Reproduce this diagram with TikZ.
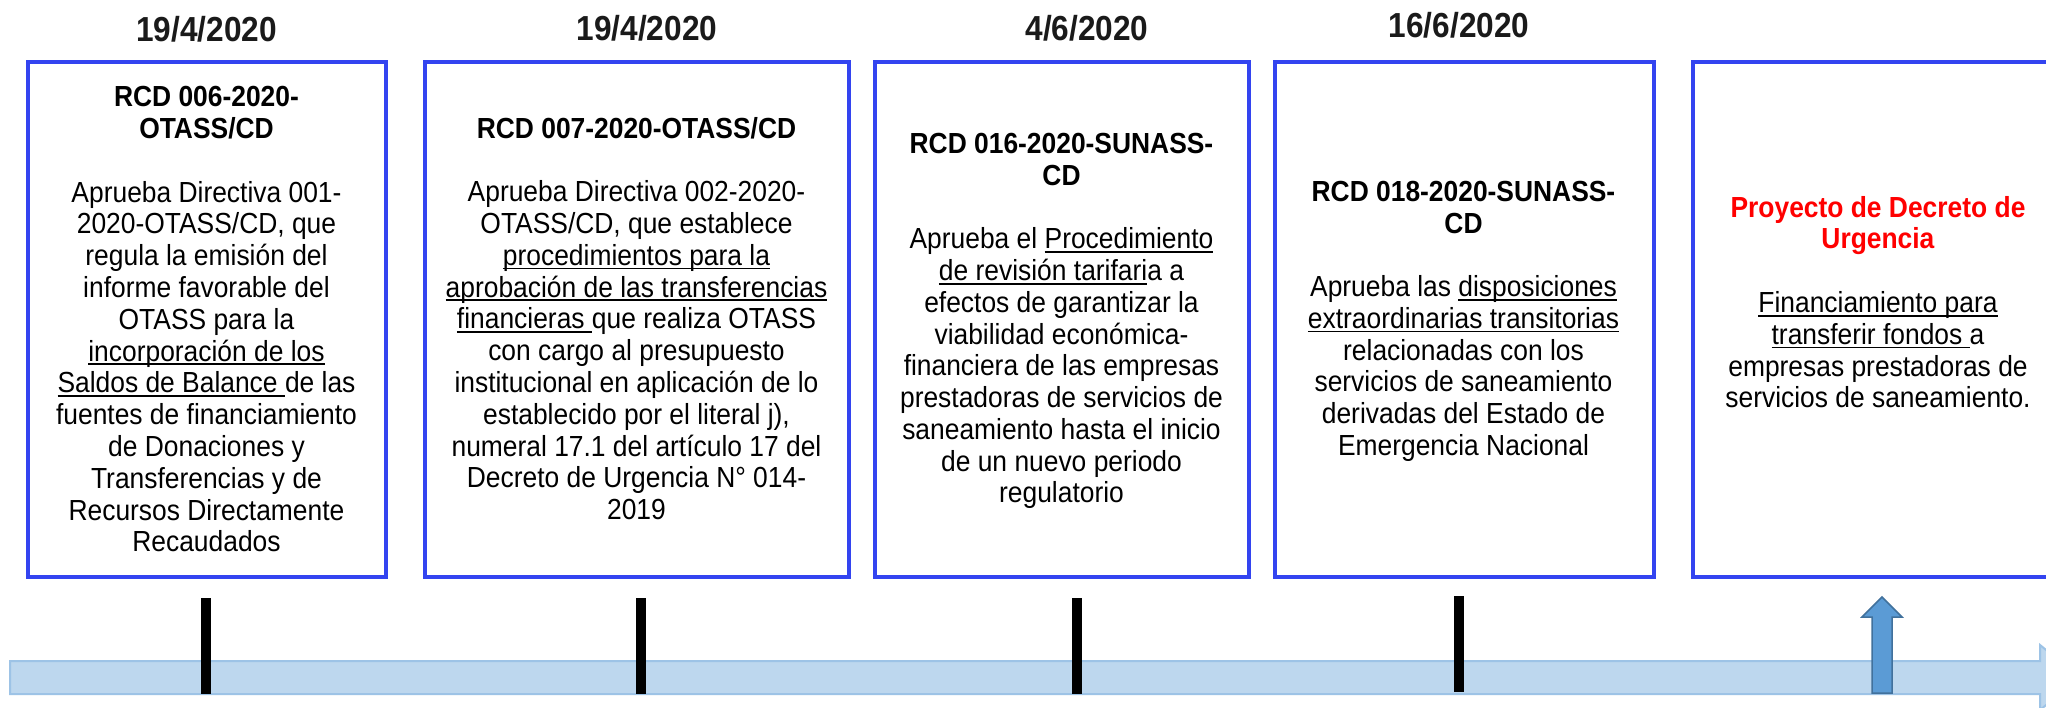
\documentclass[tikz,border=0pt]{standalone}
\usepackage{fontspec}
\setmainfont{Liberation Sans}
\definecolor{boxblue}{RGB}{51,68,240}
\definecolor{datecol}{RGB}{26,26,26}
\definecolor{bandfill}{RGB}{189,215,238}
\definecolor{bandedge}{RGB}{157,195,230}
\definecolor{arrfill}{RGB}{91,155,213}
\definecolor{arredge}{RGB}{65,113,156}
\definecolor{titlered}{RGB}{255,0,0}
\newsavebox{\ulxbox}
\newcommand{\ulx}[1]{\sbox{\ulxbox}{#1}\rlap{\rule[-3.7pt]{\wd\ulxbox}{1.7pt}}\usebox{\ulxbox}}
\begin{document}
\begin{tikzpicture}[x=1pt,y=-1pt,
  bx/.style={draw=boxblue, line width=4pt, fill=white, minimum height=515pt, inner sep=0pt},
  txt/.style={align=center, inner sep=0pt, anchor=north, font=\fontsize{26.4}{28.9}\selectfont},
  datelbl/.style={font=\bfseries\fontsize{31.6}{36}\selectfont, text=datecol, anchor=base, inner sep=0pt},
  tickmark/.style={line width=10pt, draw=black},
]
\useasboundingbox (0,0) rectangle (2046,707);
\clip (0,0) rectangle (2046,707);
\fill[white] (0,0) rectangle (2046,707);

% boxes
\node[bx, minimum width=358pt] (box1) at (207,319.5) {};
\node[bx, minimum width=424pt] (box2) at (637,319.5) {};
\node[bx, minimum width=374pt] (box3) at (1062,319.5) {};
\node[bx, minimum width=379pt] (box4) at (1464.5,319.5) {};
\node[bx, minimum width=370pt] (box5) at (1878,319.5) {};

\begin{scope}[yscale=1.1, every node/.append style={transform shape}]
% dates
\node[datelbl] (d1) at (206.5,37.3) {19/4/2020};
\node[datelbl] (d2) at (647,36.4) {19/4/2020};
\node[datelbl] (d3) at (1087,36.4) {4/6/2020};
\node[datelbl] (d4) at (1459,33.8) {16/6/2020};

% box texts
\node[txt] (t1) at (206.5,76.6) {\strut\textbf{RCD 006-2020-}\\\textbf{OTASS/CD}\\[28.9pt]
Aprueba Directiva 001-\\2020-OTASS/CD, que\\regula la emisión del\\informe favorable del\\OTASS para la\\
\ulx{incorporación de los}\\\ulx{Saldos de Balance\ }de las\\fuentes de financiamiento\\de Donaciones y\\
Transferencias y de\\Recursos Directamente\\Recaudados};

\node[txt] (t2) at (636.5,105.2) {\strut\textbf{RCD 007-2020-OTASS/CD}\\[28.9pt]
Aprueba Directiva 002-2020-\\OTASS/CD, que establece\\\ulx{procedimientos para la}\\
\ulx{aprobación de las transferencias}\\\ulx{financieras\ }que realiza OTASS\\con cargo al presupuesto\\
institucional en aplicación de lo\\establecido por el literal j),\\numeral 17.1 del artículo 17 del\\
Decreto de Urgencia N° 014-\\2019};

\node[txt] (t3) at (1061.5,118.9) {\strut\textbf{RCD 016-2020-SUNASS-}\\\textbf{CD}\\[28.9pt]
Aprueba el \ulx{Procedimiento}\\\ulx{de revisión tarifari}a a\\efectos de garantizar la\\viabilidad económica-\\
financiera de las empresas\\prestadoras de servicios de\\saneamiento hasta el inicio\\de un nuevo periodo\\regulatorio};

\node[txt] (t4) at (1463.5,162.5) {\strut\textbf{RCD 018-2020-SUNASS-}\\\textbf{CD}\\[28.9pt]
Aprueba las \ulx{disposiciones}\\\ulx{extraordinarias transitorias}\\relacionadas con los\\servicios de saneamiento\\
derivadas del Estado de\\Emergencia Nacional};

\node[txt] (t5) at (1878,177.0) {\strut\textcolor{titlered}{\textbf{Proyecto de Decreto de}}\\\textcolor{titlered}{\textbf{Urgencia}}\\[28.9pt]
\ulx{Financiamiento para}\\\ulx{transferir fondos\ }a\\empresas prestadoras de\\servicios de saneamiento.};
\end{scope}

% timeline band
\path[draw=bandedge, fill=bandfill, line width=2pt]
  (10,661) -- (2040,661) -- (2040,645) -- (2080,677.5) -- (2040,710) -- (2040,694) -- (10,694) -- cycle;

% ticks
\draw[tickmark] (206,598) -- (206,694);
\draw[tickmark] (641,598) -- (641,694);
\draw[tickmark] (1077,598) -- (1077,694);
\draw[tickmark] (1459,596) -- (1459,692);

% up arrow
\path[draw=arredge, fill=arrfill, line width=1.5pt]
  (1872,693) -- (1872,617) -- (1862,617) -- (1882,597) -- (1902,617) -- (1892,617) -- (1892,693) -- cycle;
\end{tikzpicture}
\end{document}
